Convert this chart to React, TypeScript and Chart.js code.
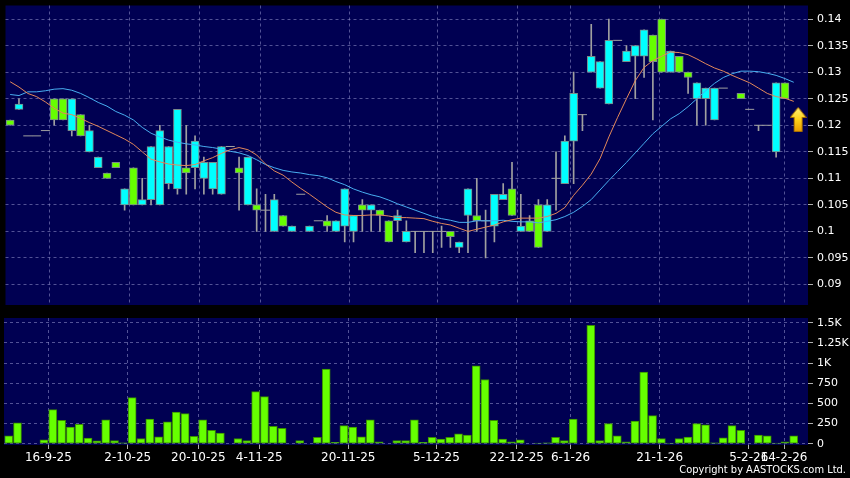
import React, { useEffect, useRef } from 'react';
import { Chart, registerables } from 'chart.js';

Chart.register(...registerables);

// ---- data ----
const dateLabels = ['16-9-25', '2-10-25', '20-10-25', '4-11-25', '20-11-25', '5-12-25', '22-12-25', '6-1-26', '21-1-26', '5-2-26', '14-2-26'];
const dateTickPos = [4.5, 13.5, 21.5, 28.4, 38.5, 48.5, 57.6, 63.7, 73.8, 83.9, 87.9];

const opens = [
  0.121, 0.123, 0.118, 0.118, 0.119, 0.125, 0.125, 0.119, 0.122, 0.115,
  0.112, 0.111, 0.113, 0.105, 0.112, 0.105, 0.106, 0.105, 0.109, 0.108,
  0.112, 0.112, 0.110, 0.108, 0.107, 0.116, 0.112, 0.105, 0.105, 0.104,
  0.100, 0.103, 0.100, 0.107, 0.100, 0.102, 0.102, 0.100, 0.101, 0.100,
  0.105, 0.104, 0.104, 0.102, 0.102, 0.098, 0.100, 0.100, 0.100, 0.100,
  0.100, 0.097, 0.103, 0.103, 0.102, 0.101, 0.106, 0.108, 0.100, 0.102,
  0.105, 0.100, 0.110, 0.109, 0.117, 0.122, 0.130, 0.127, 0.124, 0.136,
  0.132, 0.133, 0.133, 0.137, 0.140, 0.130, 0.133, 0.130, 0.125, 0.125,
  0.121, 0.127, null, 0.126, 0.123, 0.120, 0.120, 0.115, 0.128, null,
];
const highs = [
  0.121, 0.125, 0.118, 0.118, 0.119, 0.125, 0.125, 0.125, 0.122, 0.120,
  0.114, 0.111, 0.113, 0.108, 0.112, 0.110, 0.116, 0.120, 0.116, 0.123,
  0.120, 0.118, 0.114, 0.113, 0.116, 0.116, 0.114, 0.114, 0.108, 0.107,
  0.107, 0.103, 0.101, 0.107, 0.101, 0.102, 0.103, 0.102, 0.108, 0.103,
  0.106, 0.105, 0.104, 0.102, 0.104, 0.102, 0.100, 0.100, 0.100, 0.101,
  0.100, 0.098, 0.108, 0.110, 0.104, 0.107, 0.109, 0.113, 0.107, 0.103,
  0.106, 0.106, 0.115, 0.118, 0.130, 0.122, 0.139, 0.132, 0.140, 0.136,
  0.135, 0.135, 0.138, 0.137, 0.140, 0.134, 0.133, 0.130, 0.128, 0.127,
  0.127, 0.127, null, 0.126, 0.123, 0.120, 0.120, 0.128, 0.128, null,
];
const lows = [
  0.120, 0.123, 0.118, 0.118, 0.119, 0.120, 0.121, 0.118, 0.118, 0.115,
  0.112, 0.110, 0.112, 0.104, 0.105, 0.105, 0.105, 0.105, 0.108, 0.107,
  0.107, 0.108, 0.107, 0.107, 0.107, 0.116, 0.104, 0.105, 0.100, 0.100,
  0.100, 0.101, 0.100, 0.107, 0.100, 0.102, 0.100, 0.100, 0.098, 0.098,
  0.100, 0.100, 0.100, 0.098, 0.100, 0.098, 0.096, 0.096, 0.096, 0.097,
  0.097, 0.096, 0.096, 0.100, 0.095, 0.098, 0.106, 0.103, 0.100, 0.100,
  0.097, 0.100, 0.104, 0.109, 0.109, 0.119, 0.130, 0.127, 0.124, 0.136,
  0.132, 0.125, 0.129, 0.121, 0.130, 0.130, 0.130, 0.126, 0.120, 0.120,
  0.121, 0.127, null, 0.125, 0.123, 0.119, 0.120, 0.114, 0.125, null,
];
const closes = [
  0.120, 0.124, 0.118, 0.118, 0.119, 0.121, 0.121, 0.125, 0.118, 0.119,
  0.114, 0.110, 0.112, 0.108, 0.105, 0.106, 0.116, 0.119, 0.116, 0.123,
  0.111, 0.117, 0.113, 0.113, 0.116, 0.116, 0.111, 0.114, 0.104, 0.104,
  0.106, 0.101, 0.101, 0.107, 0.101, 0.102, 0.101, 0.102, 0.108, 0.103,
  0.104, 0.105, 0.103, 0.098, 0.103, 0.100, 0.100, 0.100, 0.100, 0.100,
  0.099, 0.098, 0.108, 0.102, 0.102, 0.107, 0.107, 0.103, 0.101, 0.100,
  0.097, 0.105, 0.110, 0.117, 0.126, 0.122, 0.133, 0.132, 0.136, 0.136,
  0.134, 0.135, 0.138, 0.132, 0.130, 0.134, 0.130, 0.129, 0.128, 0.127,
  0.127, 0.127, null, 0.125, 0.123, 0.120, 0.120, 0.128, 0.125, null,
];
const volumes = [
  100, 261, 0, 0, 50, 423, 290, 207, 240, 70,
  37, 298, 41, 12, 572, 66, 307, 87, 273, 394,
  373, 91, 298, 166, 133, 0, 66, 41, 646, 584,
  215, 190, 0, 41, 0, 79, 924, 17, 224, 207,
  87, 298, 25, 0, 41, 41, 298, 17, 79, 58,
  79, 124, 108, 966, 796, 290, 58, 25, 50, 0,
  8, 12, 79, 41, 307, 0, 1467, 41, 249, 100,
  25, 282, 887, 348, 66, 8, 66, 83, 249, 236,
  12, 75, 224, 166, 0, 108, 100, 8, 25, 100,
];
const maShort = [
  0.1282, 0.1272, 0.1260, 0.1254, 0.1244, 0.1232, 0.1223, 0.1220, 0.1213, 0.1205,
  0.1198, 0.1190, 0.1182, 0.1174, 0.1164, 0.1150, 0.1136, 0.1131, 0.1127, 0.1125,
  0.1124, 0.1126, 0.1133, 0.1139, 0.1147, 0.1154, 0.1158, 0.1154, 0.1144, 0.1127,
  0.1114, 0.1106, 0.1093, 0.1081, 0.1070, 0.1058, 0.1046, 0.1036, 0.1031, 0.1030,
  0.1030, 0.1031, 0.1031, 0.1029, 0.1026, 0.1026, 0.1025, 0.1024, 0.1019, 0.1015,
  0.1012, 0.1006, 0.1000, 0.1004, 0.1008, 0.1012, 0.1018, 0.1022, 0.1025, 0.1025,
  0.1025, 0.1028, 0.1034, 0.1045, 0.1068, 0.1087, 0.1108, 0.1137, 0.1178, 0.1215,
  0.1250, 0.1284, 0.1309, 0.1322, 0.1330, 0.1338, 0.1337, 0.1333, 0.1325, 0.1316,
  0.1308, 0.1302, 0.1294, 0.1287, 0.1280, 0.1270, 0.1260, 0.1254, 0.1251, 0.1245,
];
const maLong = [
  0.1258, 0.1256, 0.1263, 0.1263, 0.1265, 0.1268, 0.1269, 0.1266, 0.1260, 0.1252,
  0.1243, 0.1236, 0.1226, 0.1219, 0.1210, 0.1196, 0.1185, 0.1178, 0.1172, 0.1168,
  0.1165, 0.1163, 0.1160, 0.1158, 0.1155, 0.1151, 0.1148, 0.1143, 0.1135, 0.1126,
  0.1120, 0.1115, 0.1112, 0.1110, 0.1107, 0.1105, 0.1101, 0.1094, 0.1088, 0.1080,
  0.1074, 0.1069, 0.1065, 0.1059, 0.1052, 0.1046, 0.1040, 0.1034, 0.1028, 0.1024,
  0.1021, 0.1017, 0.1017, 0.1020, 0.1020, 0.1020, 0.1021, 0.1019, 0.1018, 0.1018,
  0.1016, 0.1019, 0.1022, 0.1028, 0.1036, 0.1047, 0.1060, 0.1078, 0.1096, 0.1113,
  0.1130, 0.1148, 0.1166, 0.1184, 0.1198, 0.1212, 0.1222, 0.1235, 0.1250, 0.1265,
  0.1279, 0.1290, 0.1297, 0.1302, 0.1302, 0.1301, 0.1298, 0.1294, 0.1288, 0.1281,
];
const priceTicks = [0.09, 0.095, 0.1, 0.105, 0.11, 0.115, 0.12, 0.125, 0.13, 0.135, 0.14];
const volumeTicks = [0, 250, 500, 750, 1000, 1250, 1500];
const signalX = [89.5];
const signalY = [0.1211];

// ---- styling ----
const NAVY = '#000052';
const CYAN = '#00ffff';
const GREEN = '#66ff00';
const GRID = 'rgba(150,150,205,0.55)';
const WICK = '#a0a0a0';
const FONT = "'DejaVu Sans', sans-serif";

const plotBg = {
  id: 'plotBg',
  beforeDraw(chart: any) {
    const { ctx, chartArea } = chart;
    if (!chartArea) return;
    ctx.save();
    ctx.fillStyle = NAVY;
    ctx.fillRect(chartArea.left, chartArea.top, chartArea.right - chartArea.left, chartArea.bottom - chartArea.top);
    ctx.restore();
  },
};

function makeArrow(): HTMLCanvasElement {
  const c = document.createElement('canvas');
  c.width = 17;
  c.height = 25;
  const g = c.getContext('2d')!;
  const grad = g.createLinearGradient(0, 0, 0, 25);
  grad.addColorStop(0, '#fff27a');
  grad.addColorStop(0.5, '#ffd21a');
  grad.addColorStop(1, '#e89a00');
  g.beginPath();
  g.moveTo(8.5, 0.5);
  g.lineTo(16.5, 10.5);
  g.lineTo(12.5, 10.5);
  g.lineTo(12.5, 24.5);
  g.lineTo(4.5, 24.5);
  g.lineTo(4.5, 10.5);
  g.lineTo(0.5, 10.5);
  g.closePath();
  g.fillStyle = grad;
  g.fill();
  g.strokeStyle = '#a86e00';
  g.lineWidth = 1;
  g.stroke();
  return c;
}

function noPad(s: any) {
  s.paddingTop = 0;
  s.paddingBottom = 0;
  s.paddingLeft = 0;
  s.paddingRight = 0;
}

export default function App() {
  const mainRef = useRef<HTMLCanvasElement>(null);
  const volRef = useRef<HTMLCanvasElement>(null);

  useEffect(() => {
    document.body.style.margin = '0';
    Chart.defaults.font.family = FONT;

    const bodies: any[] = [];
    const dojis: any[] = [];
    const wicks: any[] = [];
    for (let i = 0; i < opens.length; i++) {
      const o = opens[i], c = closes[i], h = highs[i], l = lows[i];
      if (o == null || c == null || h == null || l == null) continue;
      if (h > l) wicks.push({ x: i, y: [l, h] });
      if (o === c) dojis.push({ x: i, y: o });
      else bodies.push({ x: i, y: [o, c] });
    }
    const shortLine = maShort.map((v, i) => ({ x: i, y: v }));
    const longLine = maLong.map((v, i) => ({ x: i, y: v }));
    const signal = signalX.map((x, i) => ({ x, y: signalY[i] }));
    const volData = volumes.map((v, i) => ({ x: i, y: v })).filter((d) => d.y > 0);

    const xCommon = {
      type: 'linear' as const,
      min: -0.53,
      max: 90.62,
      offset: false,
      afterBuildTicks: (s: any) => {
        s.ticks = dateTickPos.map((v) => ({ value: v }));
      },
    };

    const main = new Chart(mainRef.current!, {
      type: 'bar',
      data: {
        datasets: [
          {
            type: 'line',
            data: shortLine,
            borderColor: '#e3885a',
            borderWidth: 1,
            pointRadius: 0,
            order: 0,
          } as any,
          {
            type: 'line',
            data: longLine,
            borderColor: '#48aef0',
            borderWidth: 1,
            pointRadius: 0,
            order: 0,
          } as any,
          {
            type: 'scatter',
            data: signal,
            pointStyle: makeArrow(),
            order: 0,
          } as any,
          {
            type: 'bar',
            data: bodies,
            grouped: false,
            barThickness: 8,
            borderWidth: 1,
            borderSkipped: false,
            borderColor: '#7a8a8a',
            backgroundColor: (ctx: any) => {
              const r = ctx.raw;
              return r && r.y[1] > r.y[0] ? CYAN : GREEN;
            },
            order: 1,
          } as any,
          {
            type: 'scatter',
            data: dojis,
            pointStyle: 'line',
            pointRadius: 4.5,
            pointBorderColor: WICK,
            pointBorderWidth: 1,
            order: 1,
          } as any,
          {
            type: 'bar',
            data: wicks,
            grouped: false,
            barThickness: 1,
            borderWidth: 0,
            backgroundColor: WICK,
            order: 2,
          } as any,
        ],
      },
      options: {
        animation: false,
        responsive: false,
        events: [],
        layout: { padding: { left: 4, top: 4, right: 0, bottom: 7 } },
        plugins: { legend: { display: false }, tooltip: { enabled: false } },
        scales: {
          x: {
            ...xCommon,
            ticks: { display: false },
            grid: { color: GRID, drawTicks: false, offset: false },
            border: { display: false, dash: [3, 3] },
            afterFit: (s: any) => {
              s.height = 0;
              noPad(s);
            },
          },
          y: {
            type: 'linear',
            position: 'right',
            min: 0.08613,
            max: 0.14257,
            afterBuildTicks: (s: any) => {
              s.ticks = priceTicks.map((v) => ({ value: v }));
            },
            ticks: {
              color: '#ffffff',
              font: { size: 11, family: FONT },
              padding: 4,
              callback: (v: any) => String(+Number(v).toFixed(4)),
            },
            grid: { color: GRID, tickColor: '#b0b0b0', tickLength: 5, tickBorderDash: [] },
            border: { display: false, dash: [3, 3] },
            afterFit: (s: any) => {
              s.width = 42;
              noPad(s);
            },
          },
        },
      } as any,
      plugins: [plotBg],
    });

    const vol = new Chart(volRef.current!, {
      type: 'bar',
      data: {
        datasets: [
          {
            data: volData,
            grouped: false,
            barThickness: 8,
            backgroundColor: GREEN,
            borderColor: '#3a8c00',
            borderWidth: 1,
            borderSkipped: false,
          } as any,
        ],
      },
      options: {
        animation: false,
        responsive: false,
        events: [],
        layout: { padding: { left: 4, top: 6, right: 0, bottom: 13 } },
        plugins: { legend: { display: false }, tooltip: { enabled: false } },
        scales: {
          x: {
            ...xCommon,
            ticks: {
              color: '#ffffff',
              font: { size: 12, family: FONT },
              padding: 2,
              autoSkip: false,
              maxRotation: 0,
              minRotation: 0,
              callback: (v: any) => {
                const k = dateTickPos.indexOf(Number(v));
                return k >= 0 ? dateLabels[k] : '';
              },
            },
            grid: { color: GRID, tickColor: '#b0b0b0', tickLength: 4, tickBorderDash: [], offset: false },
            border: { display: false, dash: [3, 3] },
            afterFit: (s: any) => {
              s.height = 20;
              noPad(s);
            },
          },
          y: {
            type: 'linear',
            position: 'right',
            min: -15,
            max: 1558,
            afterBuildTicks: (s: any) => {
              s.ticks = volumeTicks.map((v) => ({ value: v }));
            },
            ticks: {
              color: '#ffffff',
              font: { size: 11, family: FONT },
              padding: 4,
              callback: (v: any) => (v >= 1000 ? String(v / 1000) + 'K' : String(v)),
            },
            grid: { color: GRID, tickColor: '#b0b0b0', tickLength: 5, tickBorderDash: [] },
            border: { display: false, dash: [3, 3] },
            afterFit: (s: any) => {
              s.width = 42;
              noPad(s);
            },
          },
        },
      } as any,
      plugins: [plotBg],
    });

    return () => {
      main.destroy();
      vol.destroy();
    };
  }, []);

  return (
    <div style={{ position: 'fixed', left: 0, top: 0, width: 850, height: 478, background: '#000', overflow: 'hidden' }}>
      <canvas ref={mainRef} width={850} height={312} style={{ position: 'absolute', left: 0, top: 0, width: 850, height: 312 }} />
      <canvas ref={volRef} width={850} height={166} style={{ position: 'absolute', left: 0, top: 312, width: 850, height: 166 }} />
      <div
        style={{
          position: 'absolute',
          right: 4,
          top: 463,
          color: '#ffffff',
          font: "11px 'DejaVu Sans Condensed', 'DejaVu Sans', sans-serif",
          whiteSpace: 'nowrap',
          lineHeight: '13px',
        }}
      >
        Copyright by AASTOCKS.com Ltd.
      </div>
    </div>
  );
}
